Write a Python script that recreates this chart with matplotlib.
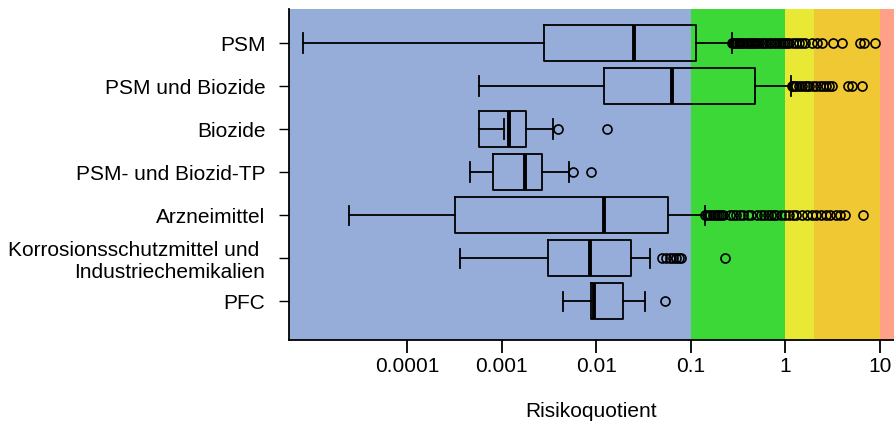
import numpy as np
import matplotlib
matplotlib.use("Agg")
import matplotlib.pyplot as plt

plt.rcParams['font.family'] = ['Liberation Sans', 'DejaVu Sans']

# categories, top to bottom
labels = ['PSM', 'PSM und Biozide', 'Biozide', 'PSM- und Biozid-TP', 'Arzneimittel',
          'Korrosionsschutzmittel und \nIndustriechemikalien', 'PFC']

# box statistics
whislo = [8.0e-6, 0.00057, 0.00106, 0.000465, 2.45e-5, 0.000364, 0.00445]
q1 = [0.00284, 0.0120, 0.000574, 0.000802, 0.000322, 0.0031, 0.00879]
med = [0.0251, 0.0628, 0.0012, 0.00177, 0.01216, 0.00857, 0.00953]
q3 = [0.114, 0.474, 0.00179, 0.00268, 0.0574, 0.0231, 0.0193]
whishi = [0.271, 1.15, 0.00348, 0.0051, 0.141, 0.037, 0.0325]

fl_psm = [0.27, 0.28, 0.29, 0.30, 0.31, 0.32, 0.33, 0.35, 0.36, 0.38, 0.40, 0.42, 0.44,
          0.46, 0.48, 0.50, 0.53, 0.56, 0.60, 0.63, 0.67, 0.70, 0.75, 0.80, 0.85, 0.90,
          0.95, 1.0, 1.05, 1.1, 1.2, 1.3, 1.4, 1.5, 1.62, 1.90, 2.15, 2.43, 3.22, 3.95,
          6.17, 6.8, 8.9]
fl_psmbio = [1.17, 1.2, 1.25, 1.3, 1.4, 1.5, 1.6, 1.7, 1.8, 1.95, 2.1, 2.3, 2.5, 2.7,
             2.9, 3.1, 4.6, 5.05, 6.4]
fl_bio = [0.00396, 0.0129]
fl_tp = [0.00571, 0.00885]
fl_arz = [0.14, 0.15, 0.16, 0.17, 0.18, 0.19, 0.20, 0.21, 0.22, 0.26, 0.28, 0.30, 0.33,
          0.36, 0.40, 0.43, 0.50, 0.55, 0.60, 0.65, 0.70, 0.75, 0.80, 0.9, 1.0, 1.1, 1.2,
          1.3, 1.5, 1.7, 1.9, 2.1, 2.4, 2.7, 3.0, 3.4, 3.8, 4.3, 6.6]
fl_kor = [0.050, 0.055, 0.060, 0.065, 0.070, 0.075, 0.079, 0.23]
fl_pfc = [0.0533]
fliers = [fl_psm, fl_psmbio, fl_bio, fl_tp, fl_arz, fl_kor, fl_pfc]

# risk classes (background bands)
band_edges = [1e-7, 0.1, 1, 2, 10, 100]
band_colors = ['#95ADD8', '#3BD838', '#E9E935', '#F0C833', '#FFA088']

fig = plt.figure(figsize=(8.94, 4.23), dpi=100)
ax = fig.add_axes([0.3233, 0.196, 0.6767, 0.7827])

for i in range(len(band_colors)):
    ax.axvspan(band_edges[i], band_edges[i + 1], color=band_colors[i], lw=0, zorder=0)

stats = []
for i in range(len(labels)):
    stats.append({'whislo': whislo[i], 'q1': q1[i], 'med': med[i], 'q3': q3[i],
                  'whishi': whishi[i], 'fliers': fliers[i]})

pos = np.arange(1, len(labels) + 1)
ax.bxp(stats, positions=pos, widths=0.83, orientation='horizontal', capwidths=0.45,
       boxprops=dict(color='black', lw=1.3),
       whiskerprops=dict(color='black', lw=1.3),
       capprops=dict(color='black', lw=1.3),
       medianprops=dict(color='black', lw=2.8),
       flierprops=dict(marker='o', markerfacecolor='none', markeredgecolor='black',
                       markersize=6.5, markeredgewidth=1.2),
       zorder=3)

ax.set_xscale('log')
ax.set_xlim(5.65e-6, 14.1)
ax.set_ylim(7.9, 0.21)

ax.set_xticks([0.0001, 0.001, 0.01, 0.1, 1, 10])
ax.set_xticklabels(['0.0001', '0.001', '0.01', '0.1', '1', '10'])
ax.minorticks_off()
ax.set_yticks(pos)
ax.set_yticklabels(labels, ha='right', multialignment='right')

for s in ['top', 'right']:
    ax.spines[s].set_visible(False)
ax.spines['left'].set_linewidth(1.3)
ax.spines['bottom'].set_linewidth(1.3)
ax.tick_params(axis='y', length=7, width=1, pad=10, labelsize=15)
ax.tick_params(axis='x', length=9, width=1.3, pad=3, labelsize=15)

ax.set_xlabel('Risikoquotient', fontsize=15, labelpad=19)

fig.savefig('out.png', dpi=100)
